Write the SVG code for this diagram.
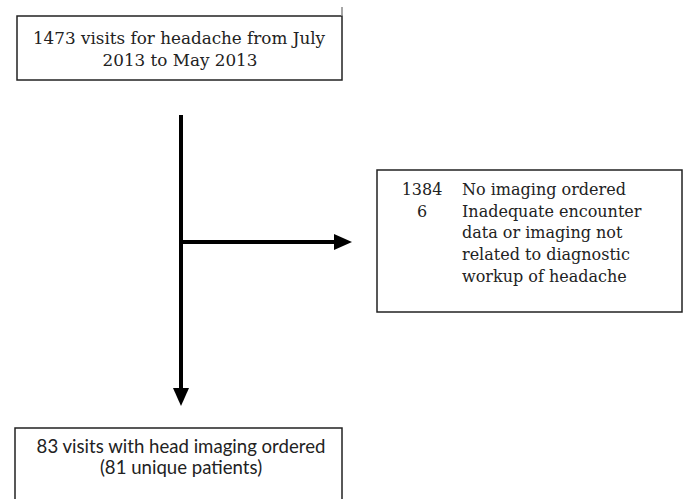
<svg xmlns="http://www.w3.org/2000/svg" width="685" height="499" viewBox="0 0 685 499">
<defs>
<style>
.box{fill:#fff;stroke:#222;stroke-width:1.5}
.conn{stroke:#000;stroke-width:4;fill:none}
.serif{font-family:"DejaVu Serif","Liberation Serif","Times New Roman",serif;fill:#222}
.sans{font-family:Lato,"Open Sans","Liberation Sans",sans-serif;font-size:18.6px;fill:#222}
</style>
<marker id="ah" markerWidth="4.5" markerHeight="4.5" refX="0.5" refY="2" orient="auto" markerUnits="strokeWidth" viewBox="0 0 4.5 4">
<path d="M0,0 L4.5,2 L0,4 Z" fill="#000"/>
</marker>
</defs>
<rect width="685" height="499" fill="#fff"/>
<g id="node-top" class="serif" font-size="16.8">
<rect class="box" x="17" y="16" width="325" height="64"/>
<line x1="342" y1="7" x2="342" y2="16" stroke="#888" stroke-width="1.5"/>
<text x="179" y="44" text-anchor="middle">1473 visits for headache from July</text>
<text x="180" y="66" text-anchor="middle">2013 to May 2013</text>
</g>
<g id="node-excluded" class="serif" font-size="16">
<rect class="box" x="377" y="170" width="305" height="142"/>
<text x="422" y="195" text-anchor="middle">1384</text>
<text x="422" y="217" text-anchor="middle">6</text>
<text x="462" y="195">No imaging ordered</text>
<text x="462" y="217">Inadequate encounter</text>
<text x="462" y="238">data or imaging not</text>
<text x="462" y="260">related to diagnostic</text>
<text x="462" y="282">workup of headache</text>
</g>
<g id="node-bottom" class="sans">
<rect class="box" x="15" y="428" width="327" height="80"/>
<text x="181" y="453" text-anchor="middle">83 visits with head imaging ordered</text>
<text x="181" y="474" text-anchor="middle">(81 unique patients)</text>
</g>
<g id="connectors">
<line class="conn" x1="181" y1="115" x2="181" y2="390" marker-end="url(#ah)"/>
<line class="conn" x1="181" y1="242" x2="336" y2="242" marker-end="url(#ah)"/>
</g>
</svg>
